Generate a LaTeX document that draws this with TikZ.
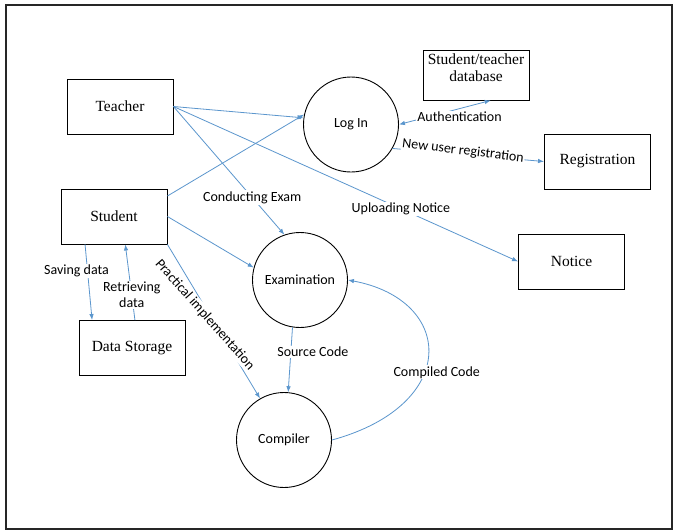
\documentclass[tikz,border=0pt]{standalone}
\usepackage{fontspec}
\setmainfont{Liberation Serif}
\newfontfamily\calib{Carlito}
\usetikzlibrary{arrows.meta}
\definecolor{flowblue}{RGB}{91,150,205}

\begin{document}
\begin{tikzpicture}[x=1pt, y=-1pt, >={Latex[length=6pt,width=4.5pt]}, semithick,
        entity/.style={draw, line width=0.9pt, minimum width=106pt, minimum height=55pt, inner sep=2pt, font=\fontsize{15.5}{17}\selectfont},
        process/.style={draw, circle, line width=0.9pt, minimum size=95pt, inner sep=0pt, font=\calib\fontsize{14}{16}\selectfont},
        flow/.style={->, draw=flowblue, line width=0.8pt},
        tag/.style={fill=white, inner sep=1pt, font=\calib\fontsize{14}{16}\selectfont}]
            \fill[white] (0, 0) rectangle (675, 531);
            \draw[line width=1.5pt, black!85] (6, 5) rectangle (672, 529);
            \node[entity] (teacher) at (120, 106.5) {Teacher};
            \node[entity] (student) at (114, 216.5) {Student};
            \node[entity] (storage) at (132, 348) {Data Storage};
            \node[entity, minimum height=50pt, align=center, text depth=14pt] (database) at (476, 75) {Student/teacher\\database};
            \node[entity] (registration) at (597.5, 161.5) {Registration};
            \node[entity] (notice) at (571.5, 261.5) {Notice};
            \node[process] (login) at (351, 124.5) {Log In};
            \node[process] (exam) at (300, 280) {Examination};
            \node[process] (compiler) at (284, 440) {Compiler};
            \draw[flow] (teacher.east) -- (login.172);
            \draw[flow] (teacher.east) -- node[tag, pos=0.71] (conducting) {Conducting Exam} (exam.109);
            \draw[flow] (teacher.east) -- node[tag, pos=0.66] (uploading) {Uploading Notice} (notice.west);
            \draw[flow] (student.21) -- (login.168);
            \draw[flow] (student.east) -- (exam.165);
            \draw[flow] (student.224) -- node[tag, pos=0.35, xshift=-11pt] (saving) {Saving data} (storage.145);
            \draw[flow] (storage.84) -- node[tag, pos=0.33, align=center] (retrieving) {Retrieving\\data} (student.292);
            \draw[flow] (student.south east) -- node[tag, pos=0.457, xshift=-5pt, rotate=-48.5] (practical) {Practical implementation} (compiler.120);
            \draw[flow] (exam.261) -- node[tag, pos=0.38, xshift=22pt] (source) {Source Code} (compiler.85);
            \draw[flow] (compiler.east) .. controls (460, 405) and (455, 300) .. node[tag, pos=0.4, xshift=13pt, yshift=2pt] (compiled) {Compiled Code} (exam.east);
            \draw[flow, <->] (login.east) -- node[tag, pos=0.66, yshift=-8pt] (authentication) {Authentication} (database.300);
            \draw[flow] (login.330) -- node[tag, pos=0.465, yshift=3.5pt, rotate=-7] (newuser) {New user registration} (registration.west);
        \end{tikzpicture}
\end{document}
